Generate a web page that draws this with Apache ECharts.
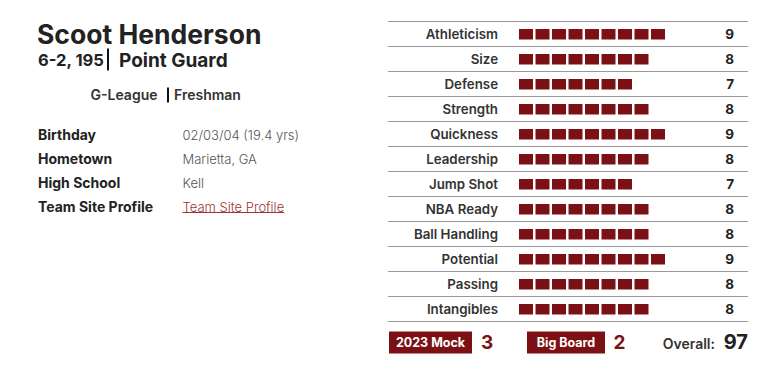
<!DOCTYPE html>
<html><head><meta charset="utf-8">
<script src="https://cdn.jsdelivr.net/npm/echarts@6/dist/echarts.min.js"></script>
<style>html,body{margin:0;padding:0;background:#fff}#c{width:763px;height:379px}</style>
</head><body><div id="c"></div>
<script>
const categories = ['Athleticism','Size','Defense','Strength','Quickness','Leadership','Jump Shot','NBA Ready','Ball Handling','Potential','Passing','Intangibles'];
const ratings = [9,8,7,8,9,8,7,8,8,9,8,8];
const playerName = 'Scoot Henderson';
const heightWeight = '6-2, 195';
const position = 'Point Guard';
const league = 'G-League';
const classYear = 'Freshman';
const detailLabels = ['Birthday','Hometown','High School','Team Site Profile'];
const detailValues = ['02/03/04 (19.4 yrs)','Marietta, GA','Kell','Team Site Profile'];
const mockRank = 3;
const bigBoardRank = 2;
const overall = 97;

const RED = '#7b1114';
const LINK = '#9a3535';
const FONT = 'Inter, "Open Sans", sans-serif';

function textWidth(txt, font) {
  const ctx = document.createElement('canvas').getContext('2d');
  ctx.font = font;
  return ctx.measureText(txt).width;
}

const chart = echarts.init(document.getElementById('c'), null, {renderer: 'svg'});

const graphics = [];
graphics.push({type:'text', x:37, y:33.5, style:{text:playerName, font:'700 26.5px '+FONT, fill:'#222', verticalAlign:'middle', lineHeight:26}});
graphics.push({type:'text', x:38, y:60, style:{text:heightWeight, font:'700 16.5px '+FONT, fill:'#222', verticalAlign:'middle', lineHeight:17}});
graphics.push({type:'rect', shape:{x:107, y:48.5, width:2, height:22}, style:{fill:'#111'}});
graphics.push({type:'text', x:119, y:60, style:{text:position, font:'700 19px '+FONT, fill:'#222', verticalAlign:'middle', lineHeight:19}});
graphics.push({type:'text', x:157.5, y:94.5, style:{text:league, font:'600 14px '+FONT, fill:'#333', verticalAlign:'middle', align:'right'}});
graphics.push({type:'rect', shape:{x:167, y:87.5, width:2, height:15}, style:{fill:'#111'}});
graphics.push({type:'text', x:174, y:94.5, style:{text:classYear, font:'600 14px '+FONT, fill:'#333', verticalAlign:'middle'}});
detailLabels.forEach((l, i) => {
  const y = 134.5 + i * 24;
  graphics.push({type:'text', x:38, y:y, style:{text:l, font:'700 14px '+FONT, fill:'#222', verticalAlign:'middle'}});
  const isLink = i === detailLabels.length - 1;
  graphics.push({type:'text', x:182.5, y:y, style:{text:detailValues[i], font:'300 13px '+FONT, fill: isLink ? LINK : '#555', verticalAlign:'middle'}});
});
const linkW = textWidth(detailValues[3], '300 13px ' + FONT);
graphics.push({type:'line', shape:{x1:182.5, y1:212.5, x2:182.5 + linkW, y2:212.5}, style:{stroke:LINK, lineWidth:1}});

// bottom badges
graphics.push({type:'rect', shape:{x:389, y:331.5, width:83, height:22}, style:{fill:RED}});
graphics.push({type:'text', x:430.5, y:342.5, style:{text:'2023 Mock', font:'700 12.5px '+FONT, fill:'#fff', align:'center', verticalAlign:'middle'}});
graphics.push({type:'text', x:481, y:342, style:{text:String(mockRank), font:'700 19px '+FONT, fill:RED, verticalAlign:'middle'}});
graphics.push({type:'rect', shape:{x:527, y:331.5, width:78, height:22}, style:{fill:RED}});
graphics.push({type:'text', x:566, y:342.5, style:{text:'Big Board', font:'700 12.5px '+FONT, fill:'#fff', align:'center', verticalAlign:'middle'}});
graphics.push({type:'text', x:613.5, y:342, style:{text:String(bigBoardRank), font:'700 19px '+FONT, fill:RED, verticalAlign:'middle'}});
graphics.push({type:'text', x:715, y:343, style:{text:'Overall:', font:'600 14px '+FONT, fill:'#333', align:'right', verticalAlign:'middle'}});
graphics.push({type:'text', x:748, y:342, style:{text:String(overall), font:'700 20px '+FONT, fill:'#222', align:'right', verticalAlign:'middle'}});

chart.setOption({
  animation: false,
  grid: [
    {left:388, width:360, top:21.5, height:300},
    {left:519, width:165, top:21.5, height:300}
  ],
  xAxis: [
    {gridIndex:0, type:'value', min:0, max:1, show:false},
    {gridIndex:1, type:'value', min:0, max:10, show:false}
  ],
  yAxis: [
    {gridIndex:0, type:'category', data:categories, inverse:true,
     axisLine:{show:false}, axisTick:{show:false}, axisLabel:{show:false},
     splitLine:{show:true, lineStyle:{color:'#9a9a9a', width:1}}},
    {gridIndex:0, type:'category', data:ratings.map(String), inverse:true, position:'right',
     axisLine:{show:false}, axisTick:{show:false}, splitLine:{show:false},
     axisLabel:{inside:true, margin:14, fontFamily:FONT, fontWeight:700, fontSize:13.5, color:'#222'}},
    {gridIndex:1, type:'category', data:categories, inverse:true,
     axisLine:{show:false}, axisTick:{show:false}, splitLine:{show:false},
     axisLabel:{margin:21, fontFamily:FONT, fontWeight:600, fontSize:13.3, color:'#333'}}
  ],
  graphic: graphics,
  series: [{
    type:'custom', xAxisIndex:1, yAxisIndex:2,
    data: ratings.map((v, i) => [v, i]),
    encode:{x:0, y:1},
    renderItem: function(params, api) {
      const v = api.value(0), c = api.value(1);
      const children = [];
      for (let k = 0; k < v; k++) {
        const p0 = api.coord([k, c]);
        const p1 = api.coord([k + 1, c]);
        children.push({type:'rect', shape:{x:p0[0], y:p0[1] - 5, width:p1[0] - p0[0] - 2.5, height:10.5}, style:{fill:RED}});
      }
      return {type:'group', children};
    }
  }]
});
</script></body></html>
